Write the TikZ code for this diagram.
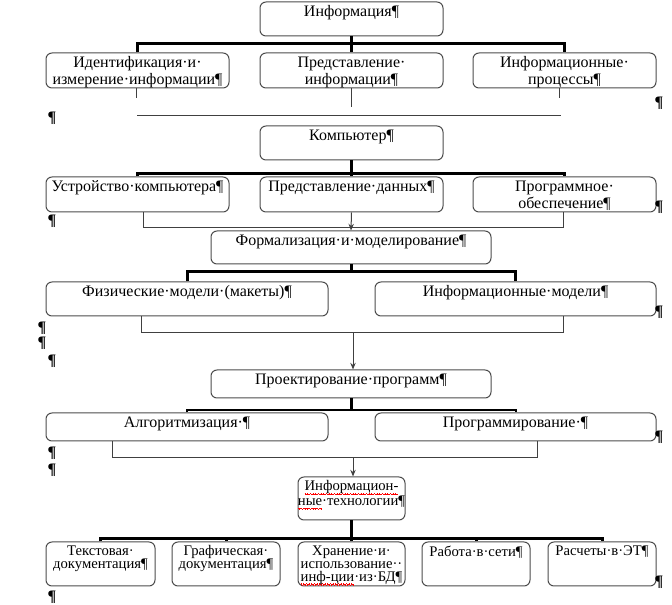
\documentclass[tikz,border=0pt]{standalone}
\usepackage{fontspec}
\setmainfont{Liberation Serif}
\usetikzlibrary{arrows.meta}
\newcommand\redwave[1]{\setbox0\hbox{#1}\rlap{\color{red}\hbox to\wd0{\leaders\hbox{\rule[-2.0pt]{0.5pt}{0.45pt}\rule[-2.4pt]{0.5pt}{0.45pt}\rule[-2.8pt]{0.5pt}{0.45pt}\rule[-2.4pt]{0.5pt}{0.45pt}}\hfil}}#1}
\newcommand\tightlines{\lineskiplimit=-\maxdimen\relax}
\newcommand\mkbox[7]{%
  \node[box, minimum width={(#4-#2)*0.75pt}, minimum height={(#5-#3)*0.75pt}] (#1) at ({(#2+#4)/2},{(#3+#5)/2}) {};
  \node[#6, anchor=north] (#1t) at ([yshift=-3pt]#1.north) {#7};
}
\begin{document}
\begin{tikzpicture}[x=0.75pt,y=-0.75pt,
  box/.style={draw=black!70, line width=0.75pt, rounded corners=4.5pt, inner sep=0pt},
  txt/.style={inner sep=0pt, align=center, font=\fontsize{12}{12.75}\selectfont},
  stxt/.style={inner sep=0pt, align=center, font=\fontsize{11}{9.75}\selectfont},
  bus/.style={line width=2.25pt, black},
  thinbus/.style={line width=1.5pt, black},
  thinline/.style={line width=0.75pt, black!75},
  arr/.style={thinline, -{Stealth[length=5pt,width=4pt]}},
  pil/.style={inner sep=0pt, font=\fontsize{12}{12}\selectfont\bfseries}
]
\useasboundingbox (0,0) rectangle (672,605);

\mkbox{info}{260}{2}{443}{36}{txt}{Информация¶}
\mkbox{b11}{46}{53}{229}{88}{txt}{Идентификация·и·\\измерение·информации¶}
\mkbox{b12}{260}{53}{443}{88}{txt}{Представление·\\информации¶}
\mkbox{b13}{473}{53}{656}{88}{txt}{Информационные·\\процессы¶}
\mkbox{comp}{260}{126}{443}{160}{txt}{Компьютер¶}
\mkbox{b21}{46}{177}{229}{212}{txt}{Устройство·компьютера¶}
\mkbox{b22}{260}{177}{443}{212}{txt}{Представление·данных¶}
\mkbox{b23}{473}{177}{656}{212}{txt}{Программное·\\обеспечение¶}
\mkbox{form}{211}{231}{491}{264}{txt}{Формализация·и·моделирование¶}
\mkbox{b31}{46}{282}{328}{316}{txt}{Физические·модели·(макеты)¶}
\mkbox{b32}{375}{282}{656}{316}{txt}{Информационные·модели¶}
\mkbox{proj}{211}{370}{491}{398}{txt}{Проектирование·программ¶}
\mkbox{b41}{46}{413}{328}{441}{txt}{Алгоритмизация·¶}
\mkbox{b42}{375}{413}{656}{441}{txt}{Программирование·¶}
\mkbox{it}{298}{477}{405}{520}{stxt}{\tightlines\redwave{Информацион-}\\ \redwave{ные}·технологии¶}
\mkbox{c1}{46}{542}{155}{586}{stxt}{\tightlines Текстовая·\\документация¶}
\mkbox{c2}{172}{542}{280}{586}{stxt}{\tightlines Графическая·\\документация¶}
\mkbox{c3}{298}{542}{405}{586}{stxt}{\tightlines Хранение·и·\\использование··\\ \redwave{инф-ции}·из·БД¶}
\mkbox{c4}{422}{542}{530}{586}{stxt}{Работа·в·сети¶}
\mkbox{c5}{548}{542}{656}{586}{stxt}{Расчеты·в·ЭТ¶}

% level 1
\coordinate (j1) at (351,44);
\draw[bus] (info.south) -- (b12.north);
\draw[bus] (b11.north) |- (j1) -| (b13.north);
\coordinate (u1) at (136,98);
\coordinate (u2) at (351,107);
\coordinate (u3) at (559,98);
\draw[thinline] (b11.south -| u1) -- (u1);
\draw[thinline] (b12.south -| u2) -- (u2);
\draw[thinline] (b13.south -| u3) -- (u3);
\coordinate (h1) at (137,116);
\coordinate (h2) at (561,116);
\draw[thinline] (h1) -- (h2);

% level 2
\coordinate (j2) at (351,174);
\draw[bus] (comp.south) -- (b22.north);
\draw[bus] (b21.north) |- (j2) -| (b23.north);
\coordinate (k2l) at (143,228);
\coordinate (k2r) at (563,228);
\draw[thinline] (b21.south -| k2l) -- (k2l) -- (k2r) -- (b23.south -| k2r);
\draw[arr] (b22.south) -- (form.north);

% level 3
\coordinate (j3) at (351,272);
\draw[bus] (form.south) -- (j3);
\draw[bus] (b31.north) |- (j3) -| (b32.north);
\coordinate (k3l) at (141,333);
\coordinate (k3m) at (353,333);
\coordinate (k3r) at (563,333);
\draw[thinline] (b31.south -| k3l) -- (k3l) -- (k3r) -- (b32.south -| k3r);
\draw[arr] (k3m) -- (proj.north -| k3m);

% level 4
\coordinate (j4) at (351,410);
\draw[bus] (proj.south) -- (j4);
\draw[thinbus] (b41.north) |- (j4) -| (b42.north);
\coordinate (k4l) at (112,458);
\coordinate (k4m) at (353,458);
\coordinate (k4r) at (537,458);
\draw[thinline] (b41.south -| k4l) -- (k4l) -- (k4r) -- (b42.south -| k4r);
\draw[arr] (k4m) -- (it.north -| k4m);

% level 5
\coordinate (j5) at (351,539);
\draw[bus] (it.south) -- (c3.north);
\draw[bus] (c1.north) |- (j5) -| (c5.north);
\draw[bus] (c2.north) -- (c2.north |- j5);
\draw[bus] (c4.north) -- (c4.north |- j5);

% paragraph marks
\node[pil] (p1) at (659,103) {¶};
\node[pil] (p2) at (52,118) {¶};
\node[pil] (p3) at (659,207) {¶};
\node[pil] (p4) at (52,221) {¶};
\node[pil] (p5) at (659,312) {¶};
\node[pil] (p6) at (42,328) {¶};
\node[pil] (p7) at (42,343) {¶};
\node[pil] (p8) at (52,361) {¶};
\node[pil] (p9) at (659,437) {¶};
\node[pil] (p10) at (52,453) {¶};
\node[pil] (p11) at (52,470) {¶};
\node[pil] (p12) at (659,582) {¶};
\node[pil] (p13) at (52,597) {¶};
\end{tikzpicture}
\end{document}
